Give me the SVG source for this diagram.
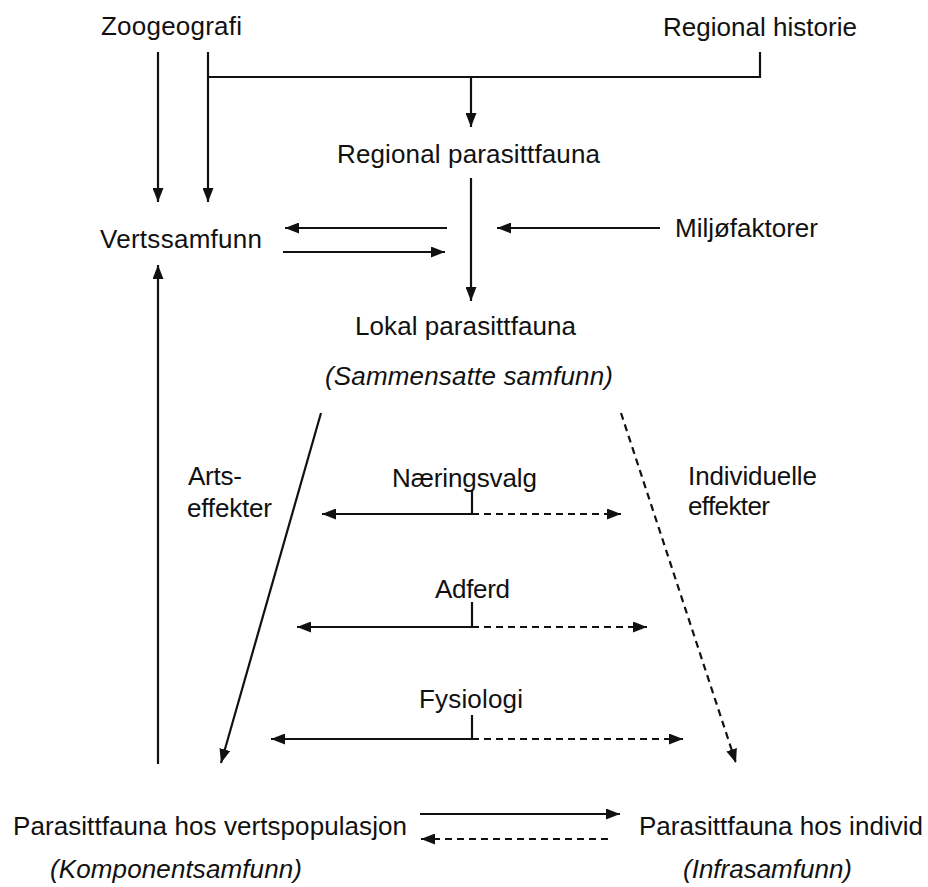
<svg xmlns="http://www.w3.org/2000/svg" width="928" height="887" viewBox="0 0 928 887">
<style>
  text { font-family: "Liberation Sans", Arial, sans-serif; font-size: 26px; fill: #111; }
  .it { font-style: italic; }
  .ln { stroke: #111; stroke-width: 2.2; fill: none; }
  .dash { stroke-dasharray: 7 5; }
  .arr { marker-end: url(#ah); }
</style>
<defs>
  <marker id="ah" viewBox="0 0 14 11" refX="14" refY="5.5" markerWidth="14" markerHeight="11" markerUnits="userSpaceOnUse" orient="auto">
    <path d="M0,0 L14,5.5 L0,11 Z" fill="#111"/>
  </marker>
</defs>
<rect width="928" height="887" fill="#fff"/>

<g id="connectors">
  <line class="ln arr" x1="158" y1="52" x2="158" y2="202"/>
  <line class="ln arr" x1="208" y1="52" x2="208" y2="202"/>
  <polyline class="ln" points="208,77 760,77 760,52"/>
  <line class="ln arr" x1="471" y1="77" x2="471" y2="127"/>
  <line class="ln arr" x1="471" y1="178" x2="471" y2="301"/>
  <line class="ln arr" x1="447" y1="228" x2="285" y2="228"/>
  <line class="ln arr" x1="283" y1="252" x2="445" y2="252"/>
  <line class="ln arr" x1="660" y1="228" x2="497" y2="228"/>
  <line class="ln arr" x1="158" y1="764" x2="158" y2="265"/>
  <line class="ln arr" x1="321" y1="413" x2="221" y2="763"/>
  <line class="ln dash arr" x1="621" y1="413" x2="736" y2="763"/>

  <line class="ln" x1="472" y1="490" x2="472" y2="514"/>
  <line class="ln arr" x1="472" y1="514" x2="322" y2="514"/>
  <line class="ln dash arr" x1="472" y1="514" x2="621" y2="514"/>

  <line class="ln" x1="472" y1="602" x2="472" y2="627"/>
  <line class="ln arr" x1="472" y1="627" x2="297" y2="627"/>
  <line class="ln dash arr" x1="472" y1="627" x2="647" y2="627"/>

  <line class="ln" x1="472" y1="715" x2="472" y2="739"/>
  <line class="ln arr" x1="472" y1="739" x2="271" y2="739"/>
  <line class="ln dash arr" x1="472" y1="739" x2="683" y2="739"/>

  <line class="ln arr" x1="420" y1="814" x2="620" y2="814"/>
  <line class="ln dash arr" x1="608" y1="839" x2="421" y2="839"/>
</g>

<g id="zoogeografi"><text x="101" y="35" textLength="141">Zoogeografi</text></g>
<g id="regional-historie"><text x="663" y="36" textLength="194">Regional historie</text></g>
<g id="regional-parasittfauna"><text x="337" y="163" textLength="263">Regional parasittfauna</text></g>
<g id="vertssamfunn"><text x="100" y="248" textLength="162">Vertssamfunn</text></g>
<g id="miljofaktorer"><text x="675" y="237" textLength="143">Miljøfaktorer</text></g>
<g id="lokal-parasittfauna">
  <text x="355" y="335" textLength="221">Lokal parasittfauna</text>
  <text class="it" x="325" y="385" textLength="288">(Sammensatte samfunn)</text>
</g>
<g id="artseffekter">
  <text x="188" y="485" textLength="54">Arts-</text>
  <text x="187" y="517" textLength="85">effekter</text>
</g>
<g id="individuelle-effekter">
  <text x="688" y="485" textLength="129">Individuelle</text>
  <text x="688" y="515" textLength="82">effekter</text>
</g>
<g id="naeringsvalg"><text x="392" y="487" textLength="145">Næringsvalg</text></g>
<g id="adferd"><text x="435" y="598" textLength="75">Adferd</text></g>
<g id="fysiologi"><text x="419" y="708" textLength="104">Fysiologi</text></g>
<g id="vertspopulasjon">
  <text x="13" y="835" textLength="394">Parasittfauna hos vertspopulasjon</text>
  <text class="it" x="50" y="878" textLength="252">(Komponentsamfunn)</text>
</g>
<g id="individ">
  <text x="639" y="835" textLength="284">Parasittfauna hos individ</text>
  <text class="it" x="683" y="878" textLength="169">(Infrasamfunn)</text>
</g>
</svg>
